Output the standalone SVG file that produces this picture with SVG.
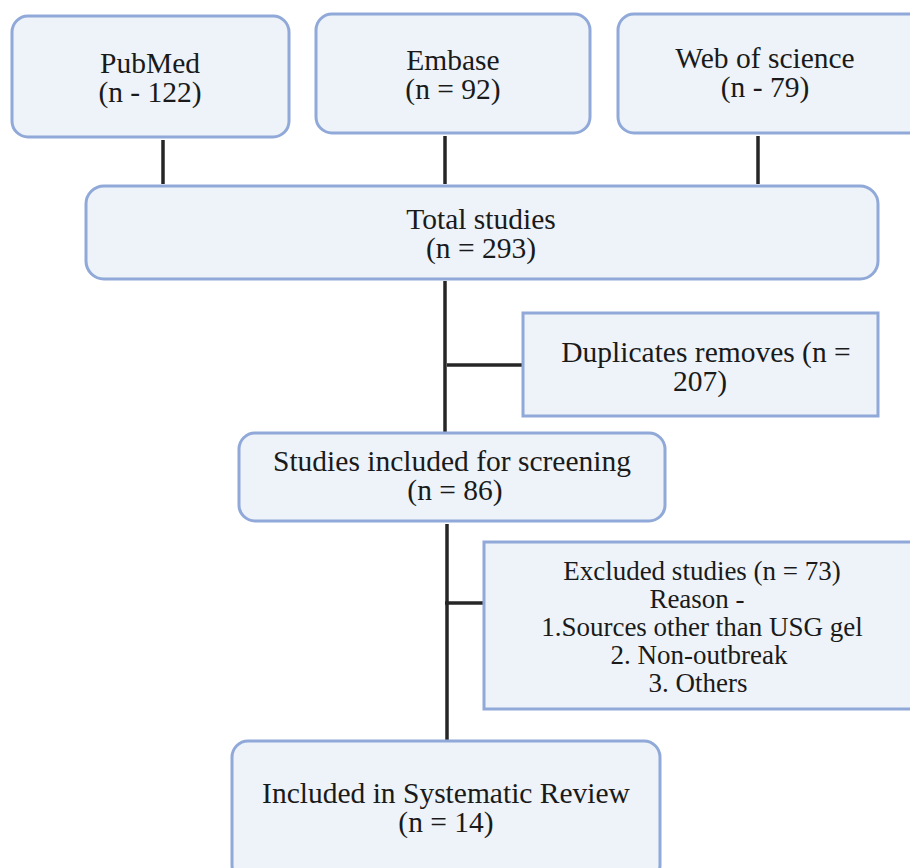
<svg xmlns="http://www.w3.org/2000/svg" width="910" height="868" viewBox="0 0 910 868">
<style>
.box{fill:#edf3f8;stroke:#90a9d9;stroke-width:3}
.t{font-family:"Liberation Serif","Times New Roman",serif;font-size:29.5px;fill:#1a1a1a;text-anchor:middle}
.s{font-size:27px}
.c{stroke:#262626;stroke-width:3.5;fill:none}
</style>
<rect width="910" height="868" fill="#ffffff"/>
<g id="connectors">
<line class="c" x1="163" y1="140" x2="163" y2="184"/>
<line class="c" x1="445" y1="136" x2="445" y2="184"/>
<line class="c" x1="758" y1="136" x2="758" y2="184"/>
<line class="c" x1="445" y1="281" x2="445" y2="432"/>
<line class="c" x1="447" y1="365" x2="522" y2="365"/>
<line class="c" x1="447" y1="524" x2="447" y2="740"/>
<line class="c" x1="445" y1="603" x2="483" y2="603"/>
</g>
<g id="pubmed">
<rect class="box" x="12" y="16" width="277" height="121" rx="16"/>
<text class="t" x="150" y="73">PubMed</text>
<text class="t" x="150" y="102">(n - 122)</text>
</g>
<g id="embase">
<rect class="box" x="316" y="14" width="274" height="119" rx="16"/>
<text class="t" x="453" y="70">Embase</text>
<text class="t" x="453" y="99">(n = 92)</text>
</g>
<g id="wos">
<rect class="box" x="618" y="14" width="310" height="119" rx="16"/>
<text class="t" x="765" y="68">Web of science</text>
<text class="t" x="765" y="97">(n - 79)</text>
</g>
<g id="total">
<rect class="box" x="86" y="186" width="792" height="93" rx="18"/>
<text class="t" x="481" y="229">Total studies</text>
<text class="t" x="481" y="258">(n = 293)</text>
</g>
<g id="duplicates">
<rect class="box" x="523" y="313" width="355" height="103"/>
<text class="t" x="706" y="362">Duplicates removes (n =</text>
<text class="t" x="700" y="391">207)</text>
</g>
<g id="screening">
<rect class="box" x="239" y="433" width="426" height="88" rx="16"/>
<text class="t" x="452" y="471">Studies included for screening</text>
<text class="t" x="455" y="500">(n = 86)</text>
</g>
<g id="excluded">
<rect class="box" x="484" y="542" width="440" height="167"/>
<text class="t s" x="702" y="580">Excluded studies (n = 73)</text>
<text class="t s" x="697" y="608">Reason -</text>
<text class="t s" x="702" y="636">1.Sources other than USG gel</text>
<text class="t s" x="699" y="664">2. Non-outbreak</text>
<text class="t s" x="698" y="692">3. Others</text>
</g>
<g id="included">
<rect class="box" x="232" y="741" width="428" height="140" rx="16"/>
<text class="t" x="446" y="803">Included in Systematic Review</text>
<text class="t" x="446" y="832">(n = 14)</text>
</g>
</svg>
